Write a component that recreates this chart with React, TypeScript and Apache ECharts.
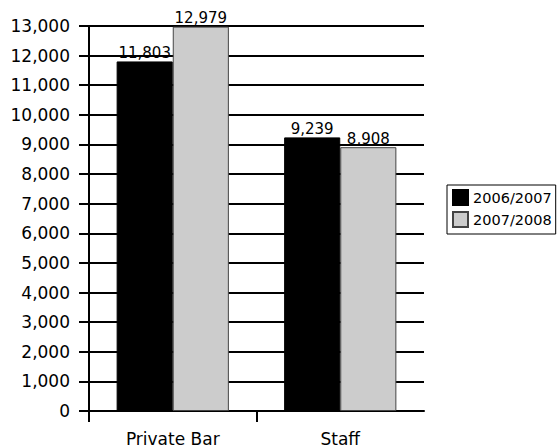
import React, { useEffect, useRef } from "react";
import * as echarts from "echarts";

const categories = ["Private Bar", "Staff"];
const seriesNames = ["2006/2007", "2007/2008"];
const values2006 = [11803, 9239];
const values2007 = [12979, 8908];

export default function App() {
  const ref = useRef<HTMLDivElement>(null);
  useEffect(() => {
    const chart = echarts.init(ref.current!, null, { renderer: "svg" });
    const font = "DejaVu Sans";
    const fmt = (v: number) => v.toLocaleString("en-US");
    const valueLabel = {
      show: true,
      position: "top",
      distance: 1,
      color: "#000",
      fontSize: 15,
      fontFamily: font,
      formatter: (p: any) => fmt(p.value),
    };
    chart.setOption({
      animation: false,
      textStyle: { fontFamily: font },
      grid: { left: 89, right: 133, top: 26, bottom: 37 },
      legend: {
        orient: "vertical",
        left: 447,
        top: 185,
        data: seriesNames,
        icon: "rect",
        itemWidth: 15,
        itemHeight: 15,
        itemGap: 5,
        padding: [4, 4, 6, 5],
        borderColor: "#000",
        borderWidth: 1,
        textStyle: { fontFamily: font, fontSize: 14.5, color: "#000" },
      },
      xAxis: [
        {
          type: "category",
          data: categories,
          axisLine: { show: true, lineStyle: { color: "#000", width: 2 } },
          axisTick: { show: false },
          axisLabel: { color: "#000", fontSize: 17, fontFamily: font, margin: 19 },
        },
        {
          type: "value",
          position: "bottom",
          min: 0,
          max: categories.length,
          interval: 1,
          axisLine: { show: false },
          splitLine: { show: false },
          axisLabel: { show: false },
          axisTick: {
            show: true,
            length: 11,
            customValues: categories.map((_, i) => i),
            lineStyle: { color: "#000", width: 2 },
          },
        },
      ],
      yAxis: {
        type: "value",
        min: 0,
        max: 13000,
        interval: 1000,
        axisLine: { show: true, lineStyle: { color: "#000", width: 2 } },
        axisTick: { show: true, length: 10, lineStyle: { color: "#000", width: 2 } },
        splitLine: { show: true, lineStyle: { color: "#000", width: 2 } },
        axisLabel: {
          color: "#000",
          fontSize: 17,
          fontFamily: font,
          margin: 19,
          formatter: (v: number) => fmt(v),
        },
      },
      series: [
        {
          name: seriesNames[0],
          type: "bar",
          data: values2006,
          barGap: "0%",
          barCategoryGap: "33%",
          itemStyle: { color: "#000", borderColor: "#000", borderWidth: 1 },
          label: valueLabel,
        },
        {
          name: seriesNames[1],
          type: "bar",
          data: values2007,
          itemStyle: { color: "#cccccc", borderColor: "#444", borderWidth: 1 },
          label: valueLabel,
        },
      ],
    });
    return () => chart.dispose();
  }, []);
  return <div ref={ref} style={{ width: 557, height: 448, position: "absolute", left: 0, top: 0, background: "#fff" }} />;
}
